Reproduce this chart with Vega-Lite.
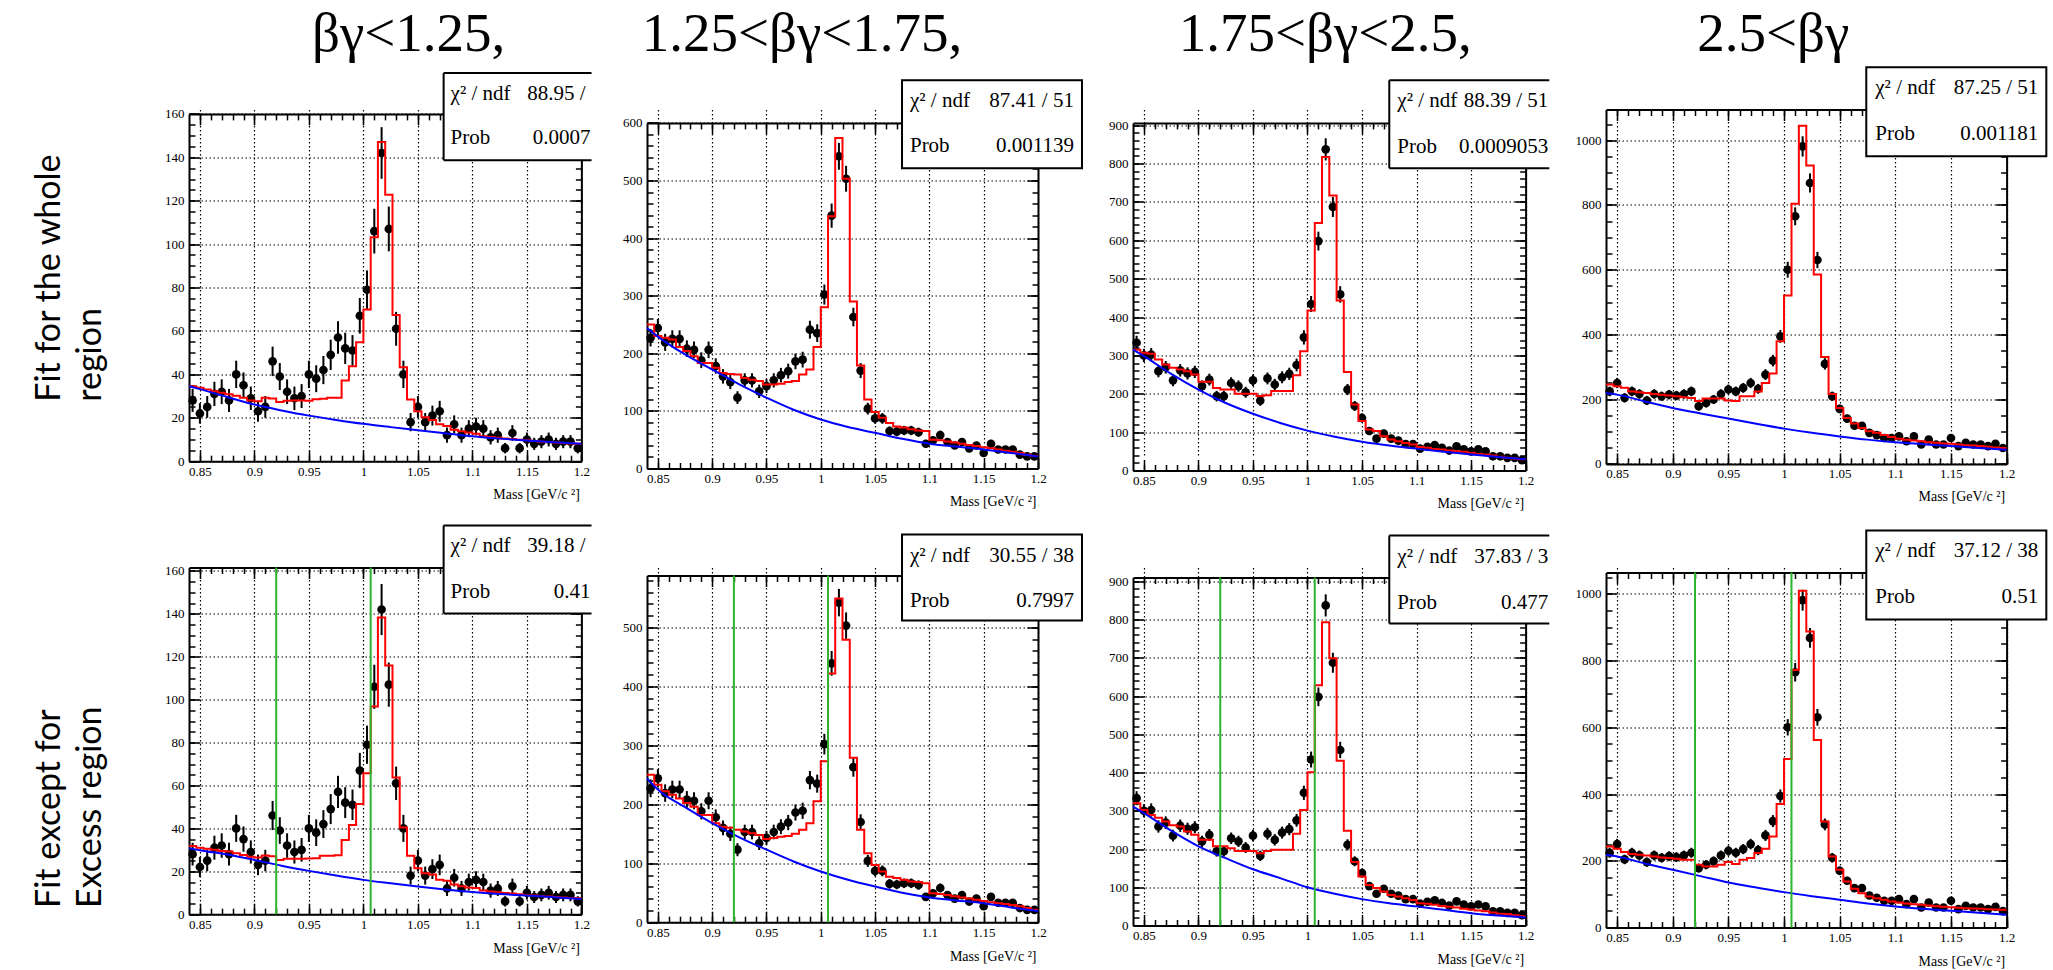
{
"$schema":"https://vega.github.io/schema/vega-lite/v6.json",
"background":"white",
"padding":{"left":32,"top":6.5,"right":0,"bottom":0},
"autosize":{"type":"pad"},
"config":{
 "view":{"stroke":null},
 "axis":{"domain":false,"labelFont":"Liberation Serif","labelFontSize":13,"labelColor":"#000","tickColor":"#000","tickWidth":1.5,"gridColor":"#000","gridDash":[1.5,2.5],"gridWidth":1.2,"gridOpacity":1,"labelFlush":false,"labelOverlap":false,"labelBound":false,"titleFont":"Liberation Serif","titleFontWeight":"normal","titleColor":"#000","domainColor":"#000","domainWidth":2},
 "title":{"font":"Liberation Serif","fontSize":55,"fontWeight":"normal","color":"#000","anchor":"middle","frame":"group","offset":45.8}
},
"datasets":{
"fitr":[{"g":0.92},{"g":1.00667}],
"bg":[
{"m":0.84,"c1":34.5,"c2":244,"c3":315,"c4":219,"c5":30.8,"c6":244,"c7":311,"c8":218},
{"m":0.85,"c1":33.2,"c2":229,"c3":298,"c4":214,"c5":29.8,"c6":225,"c7":294,"c8":213},
{"m":0.875,"c1":29.6,"c2":198,"c3":252,"c4":193,"c5":27.8,"c6":195,"c7":248,"c8":192},
{"m":0.9,"c1":26.1,"c2":172,"c3":211,"c4":173,"c5":25.3,"c6":168,"c7":207,"c8":173},
{"m":0.925,"c1":23.4,"c2":146,"c3":176,"c4":156,"c5":22.6,"c6":144,"c7":176,"c8":154},
{"m":0.95,"c1":21.0,"c2":123,"c3":148,"c4":140,"c5":20.2,"c6":123,"c7":147,"c8":135},
{"m":0.975,"c1":19.0,"c2":102,"c3":124,"c4":124,"c5":18.0,"c6":103,"c7":124,"c8":120},
{"m":1.0,"c1":17.2,"c2":85,"c3":104,"c4":109,"c5":16.0,"c6":86,"c7":100,"c8":106},
{"m":1.025,"c1":15.7,"c2":72,"c3":88,"c4":96,"c5":14.4,"c6":72,"c7":83,"c8":94},
{"m":1.05,"c1":14.3,"c2":62,"c3":75,"c4":85,"c5":12.9,"c6":60.5,"c7":69,"c8":83},
{"m":1.075,"c1":12.9,"c2":51.5,"c3":65,"c4":75,"c5":11.5,"c6":50,"c7":58,"c8":72},
{"m":1.1,"c1":11.5,"c2":43,"c3":57,"c4":67,"c5":10.3,"c6":42,"c7":50,"c8":63},
{"m":1.125,"c1":10.4,"c2":38,"c3":49,"c4":61,"c5":9.4,"c6":37,"c7":41,"c8":56},
{"m":1.15,"c1":9.5,"c2":33,"c3":42,"c4":55,"c5":8.7,"c6":32,"c7":32,"c8":50},
{"m":1.175,"c1":8.7,"c2":27,"c3":35,"c4":49,"c5":7.9,"c6":25,"c7":26,"c8":44},
{"m":1.2,"c1":8.0,"c2":21,"c3":29,"c4":44,"c5":7.1,"c6":19,"c7":21,"c8":38}
],
"bins":[
{"l":0.84,"m":0.8433,"n1":28,"a1":22.7,"b1":33.3,"n2":227,"a2":211.9,"b2":242.1,"n3":333,"a3":314.8,"b3":351.2,"n4":224,"a4":209,"b4":239,"f1":34.5,"f2":250,"f3":315,"f4":245,"f5":31.8,"f6":250,"f7":320,"f8":243},
{"l":0.8467,"m":0.85,"n1":22,"a1":17.3,"b1":26.7,"n2":244,"a2":228.4,"b2":259.6,"n3":300,"a3":282.7,"b3":317.3,"n4":250,"a4":234.2,"b4":265.8,"f1":33.8,"f2":230,"f3":307,"f4":240,"f5":31.0,"f6":233,"f7":302,"f8":236},
{"l":0.8533,"m":0.8567,"n1":25,"a1":20,"b1":30,"n2":219,"a2":204.2,"b2":233.8,"n3":302,"a3":284.6,"b3":319.4,"n4":204,"a4":189.7,"b4":218.3,"f1":33.0,"f2":227,"f3":304,"f4":235,"f5":30.5,"f6":222,"f7":289,"f8":226},
{"l":0.86,"m":0.8633,"n1":31,"a1":25.4,"b1":36.6,"n2":225,"a2":210,"b2":240,"n3":259,"a3":242.9,"b3":275.1,"n4":224,"a4":209,"b4":239,"f1":32.2,"f2":224,"f3":289,"f4":224,"f5":30.0,"f6":216,"f7":282,"f8":220},
{"l":0.8667,"m":0.87,"n1":32,"a1":26.3,"b1":37.7,"n2":225,"a2":210,"b2":240,"n3":269,"a3":252.6,"b3":285.4,"n4":216,"a4":201.3,"b4":230.7,"f1":31.5,"f2":211,"f3":276,"f4":221,"f5":29.5,"f6":210,"f7":272,"f8":218},
{"l":0.8733,"m":0.8767,"n1":28,"a1":22.7,"b1":33.3,"n2":208,"a2":193.6,"b2":222.4,"n3":235,"a3":219.7,"b3":250.3,"n4":196,"a4":182,"b4":210,"f1":30.8,"f2":204,"f3":268,"f4":219,"f5":29.2,"f6":202,"f7":262,"f8":216},
{"l":0.88,"m":0.8833,"n1":40,"a1":33.7,"b1":46.3,"n2":206,"a2":191.6,"b2":220.4,"n3":261,"a3":244.8,"b3":277.2,"n4":216,"a4":201.3,"b4":230.7,"f1":30.2,"f2":195,"f3":263,"f4":216,"f5":28.4,"f6":196,"f7":259,"f8":213},
{"l":0.8867,"m":0.89,"n1":35,"a1":29.1,"b1":40.9,"n2":188,"a2":174.3,"b2":201.7,"n3":253,"a3":237.1,"b3":268.9,"n4":209,"a4":194.5,"b4":223.5,"f1":29.2,"f2":183,"f3":259,"f4":214,"f5":27.6,"f6":182,"f7":246,"f8":210},
{"l":0.8933,"m":0.8967,"n1":29,"a1":23.6,"b1":34.4,"n2":206,"a2":191.6,"b2":220.4,"n3":257,"a3":241,"b3":273,"n4":214,"a4":199.4,"b4":228.6,"f1":28.0,"f2":183,"f3":250,"f4":211,"f5":26.8,"f6":182,"f7":237,"f8":208},
{"l":0.9,"m":0.9033,"n1":23,"a1":18.2,"b1":27.8,"n2":178,"a2":164.7,"b2":191.3,"n3":220,"a3":205.2,"b3":234.8,"n4":211,"a4":196.5,"b4":225.5,"f1":27.6,"f2":175,"f3":231,"f4":209,"f5":26.4,"f6":168,"f7":224,"f8":206},
{"l":0.9067,"m":0.91,"n1":25,"a1":20,"b1":30,"n2":160,"a2":147.4,"b2":172.6,"n3":237,"a3":221.6,"b3":252.4,"n4":216,"a4":201.3,"b4":230.7,"f1":29.2,"f2":166,"f3":231,"f4":206,"f5":27.4,"f6":162,"f7":224,"f8":203},
{"l":0.9133,"m":0.9167,"n1":46,"a1":39.2,"b1":52.8,"n2":150,"a2":137.8,"b2":162.2,"n3":194,"a3":180.1,"b3":207.9,"n4":224,"a4":209,"b4":239,"f1":28.9,"f2":164,"f3":215,"f4":204,"f5":27.0,"f6":160,"f7":207,"f8":203},
{"l":0.92,"m":0.9233,"n1":39,"a1":32.8,"b1":45.2,"n2":123,"a2":111.9,"b2":134.1,"n3":194,"a3":180.1,"b3":207.9,"n4":178,"a4":164.7,"b4":191.3,"f1":27.3,"f2":163,"f3":211,"f4":194,"f5":25.3,"f6":157,"f7":207,"f8":188},
{"l":0.9267,"m":0.93,"n1":32,"a1":26.3,"b1":37.7,"n2":153,"a2":140.6,"b2":165.4,"n3":228,"a3":212.9,"b3":243.1,"n4":188,"a4":174.3,"b4":201.7,"f1":27.9,"f2":157,"f3":211,"f4":202,"f5":25.8,"f6":154,"f7":202,"f8":183},
{"l":0.9333,"m":0.9367,"n1":29,"a1":23.6,"b1":34.4,"n2":153,"a2":140.6,"b2":165.4,"n3":220,"a3":205.2,"b3":234.8,"n4":199,"a4":184.9,"b4":213.1,"f1":28.0,"f2":154,"f3":200,"f4":202,"f5":25.9,"f6":151,"f7":195,"f8":183},
{"l":0.94,"m":0.9433,"n1":30,"a1":24.5,"b1":35.5,"n2":134,"a2":122.4,"b2":145.6,"n3":204,"a3":189.7,"b3":218.3,"n4":216,"a4":201.3,"b4":230.7,"f1":28.0,"f2":152,"f3":200,"f4":202,"f5":25.9,"f6":148,"f7":195,"f8":188},
{"l":0.9467,"m":0.95,"n1":40,"a1":33.7,"b1":46.3,"n2":143,"a2":131,"b2":155,"n3":235,"a3":219.7,"b3":250.3,"n4":230,"a4":214.8,"b4":245.2,"f1":27.9,"f2":146,"f3":200,"f4":196,"f5":26.0,"f6":141,"f7":195,"f8":196},
{"l":0.9533,"m":0.9567,"n1":38,"a1":31.8,"b1":44.2,"n2":153,"a2":140.6,"b2":165.4,"n3":182,"a3":168.5,"b3":195.5,"n4":224,"a4":209,"b4":239,"f1":28.5,"f2":146,"f3":194,"f4":194,"f5":26.1,"f6":143,"f7":189,"f8":190},
{"l":0.96,"m":0.9633,"n1":42,"a1":35.5,"b1":48.5,"n2":162,"a2":149.3,"b2":174.7,"n3":240,"a3":224.5,"b3":255.5,"n4":235,"a4":219.7,"b4":250.3,"f1":28.8,"f2":147,"f3":196,"f4":209,"f5":27.2,"f6":145,"f7":195,"f8":203},
{"l":0.9667,"m":0.97,"n1":49,"a1":42,"b1":56,"n2":169,"a2":156,"b2":182,"n3":224,"a3":209,"b3":239,"n4":250,"a4":234.2,"b4":265.8,"f1":29.2,"f2":150,"f3":207,"f4":209,"f5":27.3,"f6":146,"f7":198,"f8":208},
{"l":0.9733,"m":0.9767,"n1":57,"a1":49.5,"b1":64.5,"n2":186,"a2":172.4,"b2":199.6,"n3":243,"a3":227.4,"b3":258.6,"n4":232,"a4":216.8,"b4":247.2,"f1":29.2,"f2":152,"f3":207,"f4":224,"f5":27.5,"f6":150,"f7":198,"f8":223},
{"l":0.98,"m":0.9833,"n1":52,"a1":44.8,"b1":59.2,"n2":189,"a2":175.3,"b2":202.7,"n3":252,"a3":236.1,"b3":267.9,"n4":276,"a4":259.4,"b4":292.6,"f1":37.2,"f2":163,"f3":207,"f4":250,"f5":34.6,"f6":157,"f7":198,"f8":236},
{"l":0.9867,"m":0.99,"n1":51,"a1":43.9,"b1":58.1,"n2":241,"a2":225.5,"b2":256.5,"n3":275,"a3":258.4,"b3":291.6,"n4":319,"a4":301.1,"b4":336.9,"f1":43.8,"f2":172,"f3":248,"f4":279,"f5":41.6,"f6":168,"f7":240,"f8":273},
{"l":0.9933,"m":0.9967,"n1":67,"a1":58.8,"b1":75.2,"n2":235,"a2":219.7,"b2":250.3,"n3":347,"a3":328.4,"b3":365.6,"n4":394,"a4":374.2,"b4":413.8,"f1":54.8,"f2":211,"f3":311,"f4":379,"f5":51.4,"f6":205,"f7":302,"f8":370},
{"l":1.0,"m":1.0033,"n1":79,"a1":70.1,"b1":87.9,"n2":302,"a2":284.6,"b2":319.4,"n3":434,"a3":413.2,"b3":454.8,"n4":600,"a4":575.5,"b4":624.5,"f1":69.9,"f2":280,"f3":417,"f4":520,"f5":65.7,"f6":273,"f7":401,"f8":505},
{"l":1.0067,"m":1.01,"n1":106,"a1":95.7,"b1":116.3,"n2":439,"a2":418,"b2":460,"n3":598,"a3":573.5,"b3":622.5,"n4":765,"a4":737.3,"b4":792.7,"f1":103.2,"f2":438,"f3":645,"f4":804,"f5":96.8,"f6":422,"f7":628,"f8":772},
{"l":1.0133,"m":1.0167,"n1":142,"a1":130.1,"b1":153.9,"n2":542,"a2":518.7,"b2":565.3,"n3":837,"a3":808.1,"b3":865.9,"n4":981,"a4":949.7,"b4":1012.3,"f1":147,"f2":574,"f3":817,"f4":1045,"f5":138.3,"f6":549,"f7":793,"f8":1009},
{"l":1.02,"m":1.0233,"n1":107,"a1":96.7,"b1":117.3,"n2":503,"a2":480.6,"b2":525.4,"n3":687,"a3":660.8,"b3":713.2,"n4":868,"a4":838.5,"b4":897.5,"f1":122.8,"f2":503,"f3":717,"f4":922,"f5":115.9,"f6":479,"f7":699,"f8":887},
{"l":1.0267,"m":1.03,"n1":61,"a1":53.2,"b1":68.8,"n2":263,"a2":246.8,"b2":279.2,"n3":459,"a3":437.6,"b3":480.4,"n4":630,"a4":604.9,"b4":655.1,"f1":67.3,"f2":290,"f3":443,"f4":585,"f5":63.7,"f6":279,"f7":431,"f8":562},
{"l":1.0333,"m":1.0367,"n1":40,"a1":33.7,"b1":46.3,"n2":170,"a2":157,"b2":183,"n3":211,"a3":196.5,"b3":225.5,"n4":309,"a4":291.4,"b4":326.6,"f1":43.3,"f2":179,"f3":257,"f4":330,"f5":40.4,"f6":157,"f7":248,"f8":318},
{"l":1.04,"m":1.0433,"n1":18,"a1":13.8,"b1":22.2,"n2":104,"a2":93.8,"b2":114.2,"n3":168,"a3":155,"b3":181,"n4":209,"a4":194.5,"b4":223.5,"f1":28.4,"f2":120,"f3":172,"f4":216,"f5":27.3,"f6":117,"f7":166,"f8":213},
{"l":1.0467,"m":1.05,"n1":25,"a1":20,"b1":30,"n2":87,"a2":77.7,"b2":96.3,"n3":137,"a3":125.3,"b3":148.7,"n4":170,"a4":157,"b4":183,"f1":23.0,"f2":98,"f3":129,"f4":173,"f5":21.4,"f6":97,"f7":128,"f8":173},
{"l":1.0533,"m":1.0567,"n1":18,"a1":13.8,"b1":22.2,"n2":87,"a2":77.7,"b2":96.3,"n3":103,"a3":92.9,"b3":113.1,"n4":140,"a4":128.2,"b4":151.8,"f1":20.3,"f2":88,"f3":107,"f4":142,"f5":19.1,"f6":86,"f7":106,"f8":138},
{"l":1.06,"m":1.0633,"n1":21,"a1":16.4,"b1":25.6,"n2":65,"a2":56.9,"b2":73.1,"n3":83,"a3":73.9,"b3":92.1,"n4":118,"a4":107.1,"b4":128.9,"f1":19.0,"f2":79,"f3":103,"f4":125,"f5":18.5,"f6":77,"f7":98,"f8":116},
{"l":1.0667,"m":1.07,"n1":23,"a1":18.2,"b1":27.8,"n2":64,"a2":56,"b2":72,"n3":96,"a3":86.2,"b3":105.8,"n4":118,"a4":107.1,"b4":128.9,"f1":17.0,"f2":73,"f3":89,"f4":111,"f5":16.0,"f6":75,"f7":89,"f8":103},
{"l":1.0733,"m":1.0767,"n1":12,"a1":8.5,"b1":15.5,"n2":66,"a2":57.9,"b2":74.1,"n3":83,"a3":73.9,"b3":92.1,"n4":96,"a4":86.2,"b4":105.8,"f1":16.2,"f2":71,"f3":81,"f4":101,"f5":15.6,"f6":72,"f7":80,"f8":93},
{"l":1.08,"m":1.0833,"n1":17,"a1":12.9,"b1":21.1,"n2":66,"a2":57.9,"b2":74.1,"n3":78,"a3":69.2,"b3":86.8,"n4":89,"a4":79.6,"b4":98.4,"f1":14.5,"f2":68,"f3":76,"f4":96,"f5":13.8,"f6":69,"f7":76,"f8":88},
{"l":1.0867,"m":1.09,"n1":12,"a1":8.5,"b1":15.5,"n2":63,"a2":55.1,"b2":70.9,"n3":69,"a3":60.7,"b3":77.3,"n4":80,"a4":71.1,"b4":88.9,"f1":13.8,"f2":66,"f3":72,"f4":89,"f5":13.0,"f6":68,"f7":71,"f8":83},
{"l":1.0933,"m":1.0967,"n1":15,"a1":11.1,"b1":18.9,"n2":43,"a2":36.4,"b2":49.6,"n3":69,"a3":60.7,"b3":77.3,"n4":80,"a4":71.1,"b4":88.9,"f1":13.2,"f2":65,"f3":68,"f4":83,"f5":12.4,"f6":66,"f7":67,"f8":78},
{"l":1.1,"m":1.1033,"n1":16,"a1":12,"b1":20,"n2":49,"a2":42,"b2":56,"n3":57,"a3":49.5,"b3":64.5,"n4":85,"a4":75.8,"b4":94.2,"f1":12.6,"f2":50,"f3":61,"f4":78,"f5":12.2,"f6":49,"f7":58,"f8":75},
{"l":1.1067,"m":1.11,"n1":15,"a1":11.1,"b1":18.9,"n2":58,"a2":50.4,"b2":65.6,"n3":62,"a3":54.1,"b3":69.9,"n4":70,"a4":61.6,"b4":78.4,"f1":11.5,"f2":49,"f3":59,"f4":75,"f5":11.0,"f6":48,"f7":57,"f8":72},
{"l":1.1133,"m":1.1167,"n1":11,"a1":7.7,"b1":14.3,"n2":46,"a2":39.2,"b2":52.8,"n3":66,"a3":57.9,"b3":74.1,"n4":85,"a4":75.8,"b4":94.2,"f1":11.2,"f2":47,"f3":56,"f4":72,"f5":10.6,"f6":46,"f7":54,"f8":70},
{"l":1.12,"m":1.1233,"n1":12,"a1":8.5,"b1":15.5,"n2":40,"a2":33.7,"b2":46.3,"n3":59,"a3":51.3,"b3":66.7,"n4":60,"a4":52.3,"b4":67.7,"f1":10.8,"f2":45,"f3":55,"f4":70,"f5":10.2,"f6":44,"f7":51,"f8":68},
{"l":1.1267,"m":1.13,"n1":6,"a1":3.6,"b1":8.4,"n2":46,"a2":39.2,"b2":52.8,"n3":52,"a3":44.8,"b3":59.2,"n4":75,"a4":66.3,"b4":83.7,"f1":10.5,"f2":43,"f3":52,"f4":67,"f5":9.9,"f6":42,"f7":49,"f8":66},
{"l":1.1333,"m":1.1367,"n1":13,"a1":9.4,"b1":16.6,"n2":35,"a2":29.1,"b2":40.9,"n3":63,"a3":55.1,"b3":70.9,"n4":60,"a4":52.3,"b4":67.7,"f1":10.2,"f2":41,"f3":50,"f4":65,"f5":9.6,"f6":40,"f7":47,"f8":64},
{"l":1.14,"m":1.1433,"n1":6,"a1":3.6,"b1":8.4,"n2":40,"a2":33.7,"b2":46.3,"n3":55,"a3":47.6,"b3":62.4,"n4":60,"a4":52.3,"b4":67.7,"f1":9.9,"f2":39,"f3":49,"f4":63,"f5":9.3,"f6":38,"f7":44,"f8":62},
{"l":1.1467,"m":1.15,"n1":10,"a1":6.8,"b1":13.2,"n2":27,"a2":21.8,"b2":32.2,"n3":50,"a3":42.9,"b3":57.1,"n4":80,"a4":71.1,"b4":88.9,"f1":9.6,"f2":37,"f3":46,"f4":62,"f5":9.0,"f6":36,"f7":42,"f8":61},
{"l":1.1533,"m":1.1567,"n1":8,"a1":5.2,"b1":10.8,"n2":43,"a2":36.4,"b2":49.6,"n3":55,"a3":47.6,"b3":62.4,"n4":55,"a4":47.6,"b4":62.4,"f1":9.3,"f2":35,"f3":43,"f4":60,"f5":8.7,"f6":34,"f7":39,"f8":59},
{"l":1.16,"m":1.1633,"n1":9,"a1":6,"b1":12,"n2":33,"a2":27.3,"b2":38.7,"n3":50,"a3":42.9,"b3":57.1,"n4":65,"a4":56.9,"b4":73.1,"f1":9.0,"f2":33,"f3":42,"f4":58,"f5":8.4,"f6":32,"f7":37,"f8":58},
{"l":1.1667,"m":1.17,"n1":10,"a1":6.8,"b1":13.2,"n2":33,"a2":27.3,"b2":38.7,"n3":37,"a3":30.9,"b3":43.1,"n4":60,"a4":52.3,"b4":67.7,"f1":8.8,"f2":31,"f3":39,"f4":57,"f5":8.2,"f6":31,"f7":34,"f8":57},
{"l":1.1733,"m":1.1767,"n1":8,"a1":5.2,"b1":10.8,"n2":33,"a2":27.3,"b2":38.7,"n3":37,"a3":30.9,"b3":43.1,"n4":60,"a4":52.3,"b4":67.7,"f1":8.6,"f2":29,"f3":36,"f4":55,"f5":8.0,"f6":29,"f7":31,"f8":56},
{"l":1.18,"m":1.1833,"n1":9,"a1":6,"b1":12,"n2":24,"a2":19.1,"b2":28.9,"n3":33,"a3":27.3,"b3":38.7,"n4":55,"a4":47.6,"b4":62.4,"f1":8.4,"f2":27,"f3":33,"f4":53,"f5":7.8,"f6":27,"f7":30,"f8":55},
{"l":1.1867,"m":1.19,"n1":9,"a1":6,"b1":12,"n2":21,"a2":16.4,"b2":25.6,"n3":33,"a3":27.3,"b3":38.7,"n4":62,"a4":54.1,"b4":69.9,"f1":8.2,"f2":24,"f3":31,"f4":51,"f5":7.6,"f6":24,"f7":27,"f8":54},
{"l":1.1933,"m":1.1967,"n1":6,"a1":3.6,"b1":8.4,"n2":21,"a2":16.4,"b2":25.6,"n3":27,"a3":21.8,"b3":32.2,"n4":49,"a4":42,"b4":56,"f1":8.0,"f2":22,"f3":29,"f4":49,"f5":7.4,"f6":21,"f7":24,"f8":53},
{"l":1.2,"f1":8.0,"f2":22,"f3":29,"f4":49,"f5":7.4,"f6":21,"f7":24,"f8":53}
]
},
"columns":7,
"spacing":0,
"align":"none",
"bounds":"flush",
"concat":[
{"width":392.4,"height":1,"data":{"values":[]},"mark":{"type":"point","opacity":0},"title":{"text":"βγ<1.25,","dx":23.5}},
{"width":64.3,"height":1,"data":{"values":[]},"mark":{"type":"point","opacity":0}},
{"width":391,"height":1,"data":{"values":[]},"mark":{"type":"point","opacity":0},"title":{"text":"1.25<βγ<1.75,","dx":-40.5}},
{"width":94.7,"height":1,"data":{"values":[]},"mark":{"type":"point","opacity":0}},
{"width":392.6,"height":1,"data":{"values":[]},"mark":{"type":"point","opacity":0},"title":{"text":"1.75<βγ<2.5,","dx":-4}},
{"width":79.4,"height":1,"data":{"values":[]},"mark":{"type":"point","opacity":0}},
{"width":400.6,"height":1,"data":{"values":[]},"mark":{"type":"point","opacity":0},"title":{"text":"2.5<βγ","dx":-33}},

{"width":392.4,"height":351.7,"resolve":{"axis":{"x":"independent","y":"independent"}},"layer":[
{"data":{"name":"bins"},"transform":[{"filter":"isValid(datum.m)"}],"mark":{"type":"rule","color":"black","strokeWidth":2},"encoding":{"x":{"field":"m","type":"quantitative","scale":{"domain":[0.84,1.2],"nice":false,"zero":false},"axis":null},"y":{"field":"a1","type":"quantitative","scale":{"domain":[0,160],"range":[351.7,4.4],"nice":false,"zero":false},"axis":null},"y2":{"field":"b1"}}},
{"data":{"name":"bins"},"transform":[{"filter":"isValid(datum.m)"}],"mark":{"type":"circle","size":75,"color":"black","opacity":1},"encoding":{"x":{"field":"m","type":"quantitative","scale":{"domain":[0.84,1.2],"nice":false,"zero":false},"axis":{"orient":"bottom","values":[0.85,0.9,0.95,1,1.05,1.1,1.15,1.2],"format":"~g","ticks":false,"grid":true,"labelPadding":4,"title":"Mass [GeV/c ²]","titleFontSize":14,"titleX":390.4,"titleY":33,"titleAlign":"right","titleBaseline":"middle"}},"y":{"field":"n1","type":"quantitative","scale":{"domain":[0,160],"range":[351.7,4.4],"nice":false,"zero":false},"axis":{"orient":"left","values":[0,20,40,60,80,100,120,140,160],"format":"d","ticks":false,"grid":true,"labelPadding":5,"title":["Fit for the whole","region"],"titleFont":"Lato","titleFontSize":34,"titleFontWeight":"normal","titleAngle":270,"titleAlign":"left","titleBaseline":"top","titleX":-156.3,"titleY":291.7,"titleLineHeight":41}}}},
{"data":{"name":"bins"},"mark":{"type":"line","interpolate":"step-after","color":"#ff0000","strokeWidth":2},"encoding":{"x":{"field":"l","type":"quantitative","scale":{"domain":[0.84,1.2],"nice":false,"zero":false},"axis":{"orient":"bottom","values":[0.85,0.9,0.95,1,1.05,1.1,1.15,1.2],"labels":false,"grid":false,"domain":true,"tickSize":-11,"title":null}},"y":{"field":"f1","type":"quantitative","scale":{"domain":[0,160],"range":[351.7,4.4],"nice":false,"zero":false},"axis":{"orient":"left","values":[0,20,40,60,80,100,120,140,160],"labels":false,"grid":false,"domain":true,"tickSize":-11,"title":null}}}},
{"data":{"name":"bg"},"mark":{"type":"line","interpolate":"monotone","color":"#0000ff","strokeWidth":2},"encoding":{"x":{"field":"m","type":"quantitative","scale":{"domain":[0.84,1.2],"nice":false,"zero":false},"axis":{"orient":"bottom","values":[0.85,0.86,0.87,0.88,0.89,0.9,0.91,0.92,0.93,0.94,0.95,0.96,0.97,0.98,0.99,1,1.01,1.02,1.03,1.04,1.05,1.06,1.07,1.08,1.09,1.1,1.11,1.12,1.13,1.14,1.15,1.16,1.17,1.18,1.19,1.2],"labels":false,"grid":false,"tickSize":-6,"title":null}},"y":{"field":"c1","type":"quantitative","scale":{"domain":[0,160],"range":[351.7,4.4],"nice":false,"zero":false},"axis":{"orient":"left","values":[0,5,10,15,20,25,30,35,40,45,50,55,60,65,70,75,80,85,90,95,100,105,110,115,120,125,130,135,140,145,150,155,160],"labels":false,"grid":false,"tickSize":-6,"title":null}}}},
{"data":{"values":[{}]},"mark":{"type":"rect","fill":"white"},"encoding":{"x":{"datum":1.0736,"type":"quantitative","scale":{"domain":[0.84,1.2],"nice":false,"zero":false},"axis":{"orient":"top","offset":-4.4,"values":[0.85,0.9,0.95,1,1.05,1.1,1.15,1.2],"labels":false,"grid":false,"domain":true,"tickSize":-11,"title":null}},"x2":{"datum":1.2093},"y":{"datum":138.7,"type":"quantitative","scale":{"domain":[0,160],"range":[351.7,4.4],"nice":false,"zero":false},"axis":{"orient":"right","values":[0,20,40,60,80,100,120,140,160],"labels":false,"grid":false,"domain":true,"tickSize":-11,"title":null}},"y2":{"datum":178.8}}},
{"data":{"values":[{}]},"mark":{"type":"rule","color":"black","strokeWidth":2},"encoding":{"x":{"datum":1.0736,"type":"quantitative","scale":{"domain":[0.84,1.2],"nice":false,"zero":false},"axis":null},"x2":{"datum":1.2093},"y":{"datum":178.8,"type":"quantitative","scale":{"domain":[0,160],"range":[351.7,4.4],"nice":false,"zero":false},"axis":null}}},
{"data":{"values":[{}]},"mark":{"type":"rule","color":"black","strokeWidth":2},"encoding":{"x":{"datum":1.0736,"type":"quantitative","scale":{"domain":[0.84,1.2],"nice":false,"zero":false},"axis":null},"x2":{"datum":1.2093},"y":{"datum":138.7,"type":"quantitative","scale":{"domain":[0,160],"range":[351.7,4.4],"nice":false,"zero":false},"axis":null}}},
{"data":{"values":[{}]},"mark":{"type":"rule","color":"black","strokeWidth":2},"encoding":{"x":{"datum":1.0736,"type":"quantitative","scale":{"domain":[0.84,1.2],"nice":false,"zero":false},"axis":null},"y":{"datum":138.7,"type":"quantitative","scale":{"domain":[0,160],"range":[351.7,4.4],"nice":false,"zero":false},"axis":null},"y2":{"datum":178.8}}},
{"data":{"values":[{}]},"mark":{"type":"text","text":"χ² / ndf","align":"left","baseline":"middle","font":"Liberation Serif","fontSize":21,"color":"black"},"encoding":{"x":{"datum":1.08,"type":"quantitative","scale":{"domain":[0.84,1.2],"nice":false,"zero":false},"axis":{"orient":"top","offset":-4.4,"values":[0.85,0.86,0.87,0.88,0.89,0.9,0.91,0.92,0.93,0.94,0.95,0.96,0.97,0.98,0.99,1,1.01,1.02,1.03,1.04,1.05,1.06,1.07,1.08,1.09,1.1,1.11,1.12,1.13,1.14,1.15,1.16,1.17,1.18,1.19,1.2],"labels":false,"grid":false,"tickSize":-6,"title":null}},"y":{"datum":169.1,"type":"quantitative","scale":{"domain":[0,160],"range":[351.7,4.4],"nice":false,"zero":false},"axis":{"orient":"right","values":[0,5,10,15,20,25,30,35,40,45,50,55,60,65,70,75,80,85,90,95,100,105,110,115,120,125,130,135,140,145,150,155,160],"labels":false,"grid":false,"tickSize":-6,"title":null}}}},
{"data":{"values":[{}]},"mark":{"type":"text","text":"88.95 /","align":"right","baseline":"middle","font":"Liberation Serif","fontSize":21,"color":"black"},"encoding":{"x":{"datum":1.2038,"type":"quantitative","scale":{"domain":[0.84,1.2],"nice":false,"zero":false},"axis":null},"y":{"datum":169.1,"type":"quantitative","scale":{"domain":[0,160],"range":[351.7,4.4],"nice":false,"zero":false},"axis":null}}},
{"data":{"values":[{}]},"mark":{"type":"text","text":"Prob","align":"left","baseline":"middle","font":"Liberation Serif","fontSize":21,"color":"black"},"encoding":{"x":{"datum":1.08,"type":"quantitative","scale":{"domain":[0.84,1.2],"nice":false,"zero":false},"axis":null},"y":{"datum":148.8,"type":"quantitative","scale":{"domain":[0,160],"range":[351.7,4.4],"nice":false,"zero":false},"axis":null}}},
{"data":{"values":[{}]},"mark":{"type":"text","text":"0.0007","align":"right","baseline":"middle","font":"Liberation Serif","fontSize":21,"color":"black"},"encoding":{"x":{"datum":1.2084,"type":"quantitative","scale":{"domain":[0.84,1.2],"nice":false,"zero":false},"axis":null},"y":{"datum":148.8,"type":"quantitative","scale":{"domain":[0,160],"range":[351.7,4.4],"nice":false,"zero":false},"axis":null}}}
]},
{"width":64.3,"height":1,"data":{"values":[]},"mark":{"type":"point","opacity":0}},
{"width":391,"height":359,"resolve":{"axis":{"x":"independent","y":"independent"}},"layer":[
{"data":{"name":"bins"},"transform":[{"filter":"isValid(datum.m)"}],"mark":{"type":"rule","color":"black","strokeWidth":2},"encoding":{"x":{"field":"m","type":"quantitative","scale":{"domain":[0.84,1.2],"nice":false,"zero":false},"axis":null},"y":{"field":"a2","type":"quantitative","scale":{"domain":[0,600],"range":[359,13.4],"nice":false,"zero":false},"axis":null},"y2":{"field":"b2"}}},
{"data":{"name":"bins"},"transform":[{"filter":"isValid(datum.m)"}],"mark":{"type":"circle","size":75,"color":"black","opacity":1},"encoding":{"x":{"field":"m","type":"quantitative","scale":{"domain":[0.84,1.2],"nice":false,"zero":false},"axis":{"orient":"bottom","values":[0.85,0.9,0.95,1,1.05,1.1,1.15,1.2],"format":"~g","ticks":false,"grid":true,"labelPadding":4,"title":"Mass [GeV/c ²]","titleFontSize":14,"titleX":389,"titleY":33,"titleAlign":"right","titleBaseline":"middle"}},"y":{"field":"n2","type":"quantitative","scale":{"domain":[0,600],"range":[359,13.4],"nice":false,"zero":false},"axis":{"orient":"left","values":[0,100,200,300,400,500,600],"format":"d","ticks":false,"grid":true,"labelPadding":5,"title":null}}}},
{"data":{"name":"bins"},"mark":{"type":"line","interpolate":"step-after","color":"#ff0000","strokeWidth":2},"encoding":{"x":{"field":"l","type":"quantitative","scale":{"domain":[0.84,1.2],"nice":false,"zero":false},"axis":{"orient":"bottom","values":[0.85,0.9,0.95,1,1.05,1.1,1.15,1.2],"labels":false,"grid":false,"domain":true,"tickSize":-11,"title":null}},"y":{"field":"f2","type":"quantitative","scale":{"domain":[0,600],"range":[359,13.4],"nice":false,"zero":false},"axis":{"orient":"left","values":[0,100,200,300,400,500,600],"labels":false,"grid":false,"domain":true,"tickSize":-11,"title":null}}}},
{"data":{"name":"bg"},"mark":{"type":"line","interpolate":"monotone","color":"#0000ff","strokeWidth":2},"encoding":{"x":{"field":"m","type":"quantitative","scale":{"domain":[0.84,1.2],"nice":false,"zero":false},"axis":{"orient":"bottom","values":[0.85,0.86,0.87,0.88,0.89,0.9,0.91,0.92,0.93,0.94,0.95,0.96,0.97,0.98,0.99,1,1.01,1.02,1.03,1.04,1.05,1.06,1.07,1.08,1.09,1.1,1.11,1.12,1.13,1.14,1.15,1.16,1.17,1.18,1.19,1.2],"labels":false,"grid":false,"tickSize":-6,"title":null}},"y":{"field":"c2","type":"quantitative","scale":{"domain":[0,600],"range":[359,13.4],"nice":false,"zero":false},"axis":{"orient":"left","values":[0,20,40,60,80,100,120,140,160,180,200,220,240,260,280,300,320,340,360,380,400,420,440,460,480,500,520,540,560,580,600],"labels":false,"grid":false,"tickSize":-6,"title":null}}}},
{"data":{"values":[{}]},"mark":{"type":"rect","fill":"white","stroke":"black","strokeWidth":2},"encoding":{"x":{"datum":1.0748,"type":"quantitative","scale":{"domain":[0.84,1.2],"nice":false,"zero":false},"axis":{"orient":"top","offset":-13.4,"values":[0.85,0.9,0.95,1,1.05,1.1,1.15,1.2],"labels":false,"grid":false,"domain":true,"tickSize":-11,"title":null}},"x2":{"datum":1.2405},"y":{"datum":521.4,"type":"quantitative","scale":{"domain":[0,600],"range":[359,13.4],"nice":false,"zero":false},"axis":{"orient":"right","values":[0,100,200,300,400,500,600],"labels":false,"grid":false,"domain":true,"tickSize":-11,"title":null}},"y2":{"datum":674.1}}},
{"data":{"values":[{}]},"mark":{"type":"text","text":"χ² / ndf","align":"left","baseline":"middle","font":"Liberation Serif","fontSize":21,"color":"black"},"encoding":{"x":{"datum":1.0821,"type":"quantitative","scale":{"domain":[0.84,1.2],"nice":false,"zero":false},"axis":{"orient":"top","offset":-13.4,"values":[0.85,0.86,0.87,0.88,0.89,0.9,0.91,0.92,0.93,0.94,0.95,0.96,0.97,0.98,0.99,1,1.01,1.02,1.03,1.04,1.05,1.06,1.07,1.08,1.09,1.1,1.11,1.12,1.13,1.14,1.15,1.16,1.17,1.18,1.19,1.2],"labels":false,"grid":false,"tickSize":-6,"title":null}},"y":{"datum":637.7,"type":"quantitative","scale":{"domain":[0,600],"range":[359,13.4],"nice":false,"zero":false},"axis":{"orient":"right","values":[0,20,40,60,80,100,120,140,160,180,200,220,240,260,280,300,320,340,360,380,400,420,440,460,480,500,520,540,560,580,600],"labels":false,"grid":false,"tickSize":-6,"title":null}}}},
{"data":{"values":[{}]},"mark":{"type":"text","text":"87.41 / 51","align":"right","baseline":"middle","font":"Liberation Serif","fontSize":21,"color":"black"},"encoding":{"x":{"datum":1.2331,"type":"quantitative","scale":{"domain":[0.84,1.2],"nice":false,"zero":false},"axis":null},"y":{"datum":637.7,"type":"quantitative","scale":{"domain":[0,600],"range":[359,13.4],"nice":false,"zero":false},"axis":null}}},
{"data":{"values":[{}]},"mark":{"type":"text","text":"Prob","align":"left","baseline":"middle","font":"Liberation Serif","fontSize":21,"color":"black"},"encoding":{"x":{"datum":1.0821,"type":"quantitative","scale":{"domain":[0.84,1.2],"nice":false,"zero":false},"axis":null},"y":{"datum":559.6,"type":"quantitative","scale":{"domain":[0,600],"range":[359,13.4],"nice":false,"zero":false},"axis":null}}},
{"data":{"values":[{}]},"mark":{"type":"text","text":"0.001139","align":"right","baseline":"middle","font":"Liberation Serif","fontSize":21,"color":"black"},"encoding":{"x":{"datum":1.2331,"type":"quantitative","scale":{"domain":[0.84,1.2],"nice":false,"zero":false},"axis":null},"y":{"datum":559.6,"type":"quantitative","scale":{"domain":[0,600],"range":[359,13.4],"nice":false,"zero":false},"axis":null}}}
]},
{"width":94.7,"height":1,"data":{"values":[]},"mark":{"type":"point","opacity":0}},
{"width":392.6,"height":361,"resolve":{"axis":{"x":"independent","y":"independent"}},"layer":[
{"data":{"name":"bins"},"transform":[{"filter":"isValid(datum.m)"}],"mark":{"type":"rule","color":"black","strokeWidth":2},"encoding":{"x":{"field":"m","type":"quantitative","scale":{"domain":[0.84,1.2],"nice":false,"zero":false},"axis":null},"y":{"field":"a3","type":"quantitative","scale":{"domain":[0,906],"range":[361,13.4],"nice":false,"zero":false},"axis":null},"y2":{"field":"b3"}}},
{"data":{"name":"bins"},"transform":[{"filter":"isValid(datum.m)"}],"mark":{"type":"circle","size":75,"color":"black","opacity":1},"encoding":{"x":{"field":"m","type":"quantitative","scale":{"domain":[0.84,1.2],"nice":false,"zero":false},"axis":{"orient":"bottom","values":[0.85,0.9,0.95,1,1.05,1.1,1.15,1.2],"format":"~g","ticks":false,"grid":true,"labelPadding":4,"title":"Mass [GeV/c ²]","titleFontSize":14,"titleX":390.6,"titleY":33,"titleAlign":"right","titleBaseline":"middle"}},"y":{"field":"n3","type":"quantitative","scale":{"domain":[0,906],"range":[361,13.4],"nice":false,"zero":false},"axis":{"orient":"left","values":[0,100,200,300,400,500,600,700,800,900],"format":"d","ticks":false,"grid":true,"labelPadding":5,"title":null}}}},
{"data":{"name":"bins"},"mark":{"type":"line","interpolate":"step-after","color":"#ff0000","strokeWidth":2},"encoding":{"x":{"field":"l","type":"quantitative","scale":{"domain":[0.84,1.2],"nice":false,"zero":false},"axis":{"orient":"bottom","values":[0.85,0.9,0.95,1,1.05,1.1,1.15,1.2],"labels":false,"grid":false,"domain":true,"tickSize":-11,"title":null}},"y":{"field":"f3","type":"quantitative","scale":{"domain":[0,906],"range":[361,13.4],"nice":false,"zero":false},"axis":{"orient":"left","values":[0,100,200,300,400,500,600,700,800,900],"labels":false,"grid":false,"domain":true,"tickSize":-11,"title":null}}}},
{"data":{"name":"bg"},"mark":{"type":"line","interpolate":"monotone","color":"#0000ff","strokeWidth":2},"encoding":{"x":{"field":"m","type":"quantitative","scale":{"domain":[0.84,1.2],"nice":false,"zero":false},"axis":{"orient":"bottom","values":[0.85,0.86,0.87,0.88,0.89,0.9,0.91,0.92,0.93,0.94,0.95,0.96,0.97,0.98,0.99,1,1.01,1.02,1.03,1.04,1.05,1.06,1.07,1.08,1.09,1.1,1.11,1.12,1.13,1.14,1.15,1.16,1.17,1.18,1.19,1.2],"labels":false,"grid":false,"tickSize":-6,"title":null}},"y":{"field":"c3","type":"quantitative","scale":{"domain":[0,906],"range":[361,13.4],"nice":false,"zero":false},"axis":{"orient":"left","values":[0,20,40,60,80,100,120,140,160,180,200,220,240,260,280,300,320,340,360,380,400,420,440,460,480,500,520,540,560,580,600,620,640,660,680,700,720,740,760,780,800,820,840,860,880,900],"labels":false,"grid":false,"tickSize":-6,"title":null}}}},
{"data":{"values":[{}]},"mark":{"type":"rect","fill":"white"},"encoding":{"x":{"datum":1.075,"type":"quantitative","scale":{"domain":[0.84,1.2],"nice":false,"zero":false},"axis":{"orient":"top","offset":-13.4,"values":[0.85,0.9,0.95,1,1.05,1.1,1.15,1.2],"labels":false,"grid":false,"domain":true,"tickSize":-11,"title":null}},"x2":{"datum":1.2217},"y":{"datum":787.9,"type":"quantitative","scale":{"domain":[0,906],"range":[361,13.4],"nice":false,"zero":false},"axis":{"orient":"right","values":[0,100,200,300,400,500,600,700,800,900],"labels":false,"grid":false,"domain":true,"tickSize":-11,"title":null}},"y2":{"datum":1017.3}}},
{"data":{"values":[{}]},"mark":{"type":"rule","color":"black","strokeWidth":2},"encoding":{"x":{"datum":1.075,"type":"quantitative","scale":{"domain":[0.84,1.2],"nice":false,"zero":false},"axis":null},"x2":{"datum":1.2217},"y":{"datum":1017.3,"type":"quantitative","scale":{"domain":[0,906],"range":[361,13.4],"nice":false,"zero":false},"axis":null}}},
{"data":{"values":[{}]},"mark":{"type":"rule","color":"black","strokeWidth":2},"encoding":{"x":{"datum":1.075,"type":"quantitative","scale":{"domain":[0.84,1.2],"nice":false,"zero":false},"axis":null},"x2":{"datum":1.2217},"y":{"datum":787.9,"type":"quantitative","scale":{"domain":[0,906],"range":[361,13.4],"nice":false,"zero":false},"axis":null}}},
{"data":{"values":[{}]},"mark":{"type":"rule","color":"black","strokeWidth":2},"encoding":{"x":{"datum":1.075,"type":"quantitative","scale":{"domain":[0.84,1.2],"nice":false,"zero":false},"axis":null},"y":{"datum":787.9,"type":"quantitative","scale":{"domain":[0,906],"range":[361,13.4],"nice":false,"zero":false},"axis":null},"y2":{"datum":1017.3}}},
{"data":{"values":[{}]},"mark":{"type":"text","text":"χ² / ndf","align":"left","baseline":"middle","font":"Liberation Serif","fontSize":21,"color":"black"},"encoding":{"x":{"datum":1.0824,"type":"quantitative","scale":{"domain":[0.84,1.2],"nice":false,"zero":false},"axis":{"orient":"top","offset":-13.4,"values":[0.85,0.86,0.87,0.88,0.89,0.9,0.91,0.92,0.93,0.94,0.95,0.96,0.97,0.98,0.99,1,1.01,1.02,1.03,1.04,1.05,1.06,1.07,1.08,1.09,1.1,1.11,1.12,1.13,1.14,1.15,1.16,1.17,1.18,1.19,1.2],"labels":false,"grid":false,"tickSize":-6,"title":null}},"y":{"datum":962.5,"type":"quantitative","scale":{"domain":[0,906],"range":[361,13.4],"nice":false,"zero":false},"axis":{"orient":"right","values":[0,20,40,60,80,100,120,140,160,180,200,220,240,260,280,300,320,340,360,380,400,420,440,460,480,500,520,540,560,580,600,620,640,660,680,700,720,740,760,780,800,820,840,860,880,900],"labels":false,"grid":false,"tickSize":-6,"title":null}}}},
{"data":{"values":[{}]},"mark":{"type":"text","text":"88.39 / 51","align":"right","baseline":"middle","font":"Liberation Serif","fontSize":21,"color":"black"},"encoding":{"x":{"datum":1.2208,"type":"quantitative","scale":{"domain":[0.84,1.2],"nice":false,"zero":false},"axis":null},"y":{"datum":962.5,"type":"quantitative","scale":{"domain":[0,906],"range":[361,13.4],"nice":false,"zero":false},"axis":null}}},
{"data":{"values":[{}]},"mark":{"type":"text","text":"Prob","align":"left","baseline":"middle","font":"Liberation Serif","fontSize":21,"color":"black"},"encoding":{"x":{"datum":1.0824,"type":"quantitative","scale":{"domain":[0.84,1.2],"nice":false,"zero":false},"axis":null},"y":{"datum":842.6,"type":"quantitative","scale":{"domain":[0,906],"range":[361,13.4],"nice":false,"zero":false},"axis":null}}},
{"data":{"values":[{}]},"mark":{"type":"text","text":"0.0009053","align":"right","baseline":"middle","font":"Liberation Serif","fontSize":21,"color":"black"},"encoding":{"x":{"datum":1.2208,"type":"quantitative","scale":{"domain":[0.84,1.2],"nice":false,"zero":false},"axis":null},"y":{"datum":842.6,"type":"quantitative","scale":{"domain":[0,906],"range":[361,13.4],"nice":false,"zero":false},"axis":null}}}
]},
{"width":79.4,"height":1,"data":{"values":[]},"mark":{"type":"point","opacity":0}},
{"width":400.6,"height":354.4,"resolve":{"axis":{"x":"independent","y":"independent"}},"layer":[
{"data":{"name":"bins"},"transform":[{"filter":"isValid(datum.m)"}],"mark":{"type":"rule","color":"black","strokeWidth":2},"encoding":{"x":{"field":"m","type":"quantitative","scale":{"domain":[0.84,1.2],"nice":false,"zero":false},"axis":null},"y":{"field":"a4","type":"quantitative","scale":{"domain":[0,1095],"range":[354.4,0],"nice":false,"zero":false},"axis":null},"y2":{"field":"b4"}}},
{"data":{"name":"bins"},"transform":[{"filter":"isValid(datum.m)"}],"mark":{"type":"circle","size":75,"color":"black","opacity":1},"encoding":{"x":{"field":"m","type":"quantitative","scale":{"domain":[0.84,1.2],"nice":false,"zero":false},"axis":{"orient":"bottom","values":[0.85,0.9,0.95,1,1.05,1.1,1.15,1.2],"format":"~g","ticks":false,"grid":true,"labelPadding":4,"title":"Mass [GeV/c ²]","titleFontSize":14,"titleX":398.6,"titleY":33,"titleAlign":"right","titleBaseline":"middle"}},"y":{"field":"n4","type":"quantitative","scale":{"domain":[0,1095],"range":[354.4,0],"nice":false,"zero":false},"axis":{"orient":"left","values":[0,200,400,600,800,1000],"format":"d","ticks":false,"grid":true,"labelPadding":5,"title":null}}}},
{"data":{"name":"bins"},"mark":{"type":"line","interpolate":"step-after","color":"#ff0000","strokeWidth":2},"encoding":{"x":{"field":"l","type":"quantitative","scale":{"domain":[0.84,1.2],"nice":false,"zero":false},"axis":{"orient":"bottom","values":[0.85,0.9,0.95,1,1.05,1.1,1.15,1.2],"labels":false,"grid":false,"domain":true,"tickSize":-11,"title":null}},"y":{"field":"f4","type":"quantitative","scale":{"domain":[0,1095],"range":[354.4,0],"nice":false,"zero":false},"axis":{"orient":"left","values":[0,200,400,600,800,1000],"labels":false,"grid":false,"domain":true,"tickSize":-11,"title":null}}}},
{"data":{"name":"bg"},"mark":{"type":"line","interpolate":"monotone","color":"#0000ff","strokeWidth":2},"encoding":{"x":{"field":"m","type":"quantitative","scale":{"domain":[0.84,1.2],"nice":false,"zero":false},"axis":{"orient":"bottom","values":[0.85,0.86,0.87,0.88,0.89,0.9,0.91,0.92,0.93,0.94,0.95,0.96,0.97,0.98,0.99,1,1.01,1.02,1.03,1.04,1.05,1.06,1.07,1.08,1.09,1.1,1.11,1.12,1.13,1.14,1.15,1.16,1.17,1.18,1.19,1.2],"labels":false,"grid":false,"tickSize":-6,"title":null}},"y":{"field":"c4","type":"quantitative","scale":{"domain":[0,1095],"range":[354.4,0],"nice":false,"zero":false},"axis":{"orient":"left","values":[0,50,100,150,200,250,300,350,400,450,500,550,600,650,700,750,800,850,900,950,1000,1050],"labels":false,"grid":false,"tickSize":-6,"title":null}}}},
{"data":{"values":[{}]},"mark":{"type":"rect","fill":"white","stroke":"black","strokeWidth":2},"encoding":{"x":{"datum":1.0739,"type":"quantitative","scale":{"domain":[0.84,1.2],"nice":false,"zero":false},"axis":{"orient":"top","values":[0.85,0.9,0.95,1,1.05,1.1,1.15,1.2],"labels":false,"grid":false,"domain":true,"tickSize":-11,"title":null}},"x2":{"datum":1.2357},"y":{"datum":950.7,"type":"quantitative","scale":{"domain":[0,1095],"range":[354.4,0],"nice":false,"zero":false},"axis":{"orient":"right","values":[0,200,400,600,800,1000],"labels":false,"grid":false,"domain":true,"tickSize":-11,"title":null}},"y2":{"datum":1225.7}}},
{"data":{"values":[{}]},"mark":{"type":"text","text":"χ² / ndf","align":"left","baseline":"middle","font":"Liberation Serif","fontSize":21,"color":"black"},"encoding":{"x":{"datum":1.082,"type":"quantitative","scale":{"domain":[0.84,1.2],"nice":false,"zero":false},"axis":{"orient":"top","values":[0.85,0.86,0.87,0.88,0.89,0.9,0.91,0.92,0.93,0.94,0.95,0.96,0.97,0.98,0.99,1,1.01,1.02,1.03,1.04,1.05,1.06,1.07,1.08,1.09,1.1,1.11,1.12,1.13,1.14,1.15,1.16,1.17,1.18,1.19,1.2],"labels":false,"grid":false,"tickSize":-6,"title":null}},"y":{"datum":1160.8,"type":"quantitative","scale":{"domain":[0,1095],"range":[354.4,0],"nice":false,"zero":false},"axis":{"orient":"right","values":[0,50,100,150,200,250,300,350,400,450,500,550,600,650,700,750,800,850,900,950,1000,1050],"labels":false,"grid":false,"tickSize":-6,"title":null}}}},
{"data":{"values":[{}]},"mark":{"type":"text","text":"87.25 / 51","align":"right","baseline":"middle","font":"Liberation Serif","fontSize":21,"color":"black"},"encoding":{"x":{"datum":1.2285,"type":"quantitative","scale":{"domain":[0.84,1.2],"nice":false,"zero":false},"axis":null},"y":{"datum":1160.8,"type":"quantitative","scale":{"domain":[0,1095],"range":[354.4,0],"nice":false,"zero":false},"axis":null}}},
{"data":{"values":[{}]},"mark":{"type":"text","text":"Prob","align":"left","baseline":"middle","font":"Liberation Serif","fontSize":21,"color":"black"},"encoding":{"x":{"datum":1.082,"type":"quantitative","scale":{"domain":[0.84,1.2],"nice":false,"zero":false},"axis":null},"y":{"datum":1018.1,"type":"quantitative","scale":{"domain":[0,1095],"range":[354.4,0],"nice":false,"zero":false},"axis":null}}},
{"data":{"values":[{}]},"mark":{"type":"text","text":"0.001181","align":"right","baseline":"middle","font":"Liberation Serif","fontSize":21,"color":"black"},"encoding":{"x":{"datum":1.2285,"type":"quantitative","scale":{"domain":[0.84,1.2],"nice":false,"zero":false},"axis":null},"y":{"datum":1018.1,"type":"quantitative","scale":{"domain":[0,1095],"range":[354.4,0],"nice":false,"zero":false},"axis":null}}}
]},

{"width":392.4,"height":96.7,"data":{"values":[]},"mark":{"type":"point","opacity":0}},
{"width":64.3,"height":1,"data":{"values":[]},"mark":{"type":"point","opacity":0}},
{"width":391,"height":96.7,"data":{"values":[]},"mark":{"type":"point","opacity":0}},
{"width":94.7,"height":1,"data":{"values":[]},"mark":{"type":"point","opacity":0}},
{"width":392.6,"height":96.7,"data":{"values":[]},"mark":{"type":"point","opacity":0}},
{"width":79.4,"height":1,"data":{"values":[]},"mark":{"type":"point","opacity":0}},
{"width":400.6,"height":96.7,"data":{"values":[]},"mark":{"type":"point","opacity":0}},

{"width":392.4,"height":346.7,"resolve":{"axis":{"x":"independent","y":"independent"}},"layer":[
{"data":{"name":"bins"},"transform":[{"filter":"isValid(datum.m)"}],"mark":{"type":"rule","color":"black","strokeWidth":2},"encoding":{"x":{"field":"m","type":"quantitative","scale":{"domain":[0.84,1.2],"nice":false,"zero":false},"axis":null},"y":{"field":"a1","type":"quantitative","scale":{"domain":[0,161.6],"range":[346.7,0],"nice":false,"zero":false},"axis":null},"y2":{"field":"b1"}}},
{"data":{"name":"bins"},"transform":[{"filter":"isValid(datum.m)"}],"mark":{"type":"circle","size":75,"color":"black","opacity":1},"encoding":{"x":{"field":"m","type":"quantitative","scale":{"domain":[0.84,1.2],"nice":false,"zero":false},"axis":{"orient":"bottom","values":[0.85,0.9,0.95,1,1.05,1.1,1.15,1.2],"format":"~g","ticks":false,"grid":true,"labelPadding":4,"title":"Mass [GeV/c ²]","titleFontSize":14,"titleX":390.4,"titleY":34,"titleAlign":"right","titleBaseline":"middle"}},"y":{"field":"n1","type":"quantitative","scale":{"domain":[0,161.6],"range":[346.7,0],"nice":false,"zero":false},"axis":{"orient":"left","values":[0,20,40,60,80,100,120,140,160],"format":"d","ticks":false,"grid":true,"labelPadding":5,"title":["Fit except for","Excess region"],"titleFont":"Lato","titleFontSize":34,"titleFontWeight":"normal","titleAngle":270,"titleAlign":"left","titleBaseline":"top","titleX":-156.3,"titleY":340,"titleLineHeight":41}}}},
{"data":{"name":"bins"},"mark":{"type":"line","interpolate":"step-after","color":"#ff0000","strokeWidth":2},"encoding":{"x":{"field":"l","type":"quantitative","scale":{"domain":[0.84,1.2],"nice":false,"zero":false},"axis":{"orient":"bottom","values":[0.85,0.9,0.95,1,1.05,1.1,1.15,1.2],"labels":false,"grid":false,"domain":true,"tickSize":-11,"title":null}},"y":{"field":"f5","type":"quantitative","scale":{"domain":[0,161.6],"range":[346.7,0],"nice":false,"zero":false},"axis":{"orient":"left","values":[0,20,40,60,80,100,120,140,160],"labels":false,"grid":false,"domain":true,"tickSize":-11,"title":null}}}},
{"data":{"name":"bg"},"mark":{"type":"line","interpolate":"monotone","color":"#0000ff","strokeWidth":2},"encoding":{"x":{"field":"m","type":"quantitative","scale":{"domain":[0.84,1.2],"nice":false,"zero":false},"axis":{"orient":"bottom","values":[0.85,0.86,0.87,0.88,0.89,0.9,0.91,0.92,0.93,0.94,0.95,0.96,0.97,0.98,0.99,1,1.01,1.02,1.03,1.04,1.05,1.06,1.07,1.08,1.09,1.1,1.11,1.12,1.13,1.14,1.15,1.16,1.17,1.18,1.19,1.2],"labels":false,"grid":false,"tickSize":-6,"title":null}},"y":{"field":"c5","type":"quantitative","scale":{"domain":[0,161.6],"range":[346.7,0],"nice":false,"zero":false},"axis":{"orient":"left","values":[0,5,10,15,20,25,30,35,40,45,50,55,60,65,70,75,80,85,90,95,100,105,110,115,120,125,130,135,140,145,150,155,160],"labels":false,"grid":false,"tickSize":-6,"title":null}}}},
{"data":{"name":"fitr"},"mark":{"type":"rule","color":"#2cb52c","strokeWidth":2},"encoding":{"x":{"field":"g","type":"quantitative","scale":{"domain":[0.84,1.2],"nice":false,"zero":false},"axis":null}}},
{"data":{"values":[{}]},"mark":{"type":"rect","fill":"white"},"encoding":{"x":{"datum":1.0736,"type":"quantitative","scale":{"domain":[0.84,1.2],"nice":false,"zero":false},"axis":{"orient":"top","values":[0.85,0.9,0.95,1,1.05,1.1,1.15,1.2],"labels":false,"grid":false,"domain":true,"tickSize":-11,"title":null}},"x2":{"datum":1.2093},"y":{"datum":140.2,"type":"quantitative","scale":{"domain":[0,161.6],"range":[346.7,0],"nice":false,"zero":false},"axis":{"orient":"right","values":[0,20,40,60,80,100,120,140,160],"labels":false,"grid":false,"domain":true,"tickSize":-11,"title":null}},"y2":{"datum":181.2}}},
{"data":{"values":[{}]},"mark":{"type":"rule","color":"black","strokeWidth":2},"encoding":{"x":{"datum":1.0736,"type":"quantitative","scale":{"domain":[0.84,1.2],"nice":false,"zero":false},"axis":null},"x2":{"datum":1.2093},"y":{"datum":181.2,"type":"quantitative","scale":{"domain":[0,161.6],"range":[346.7,0],"nice":false,"zero":false},"axis":null}}},
{"data":{"values":[{}]},"mark":{"type":"rule","color":"black","strokeWidth":2},"encoding":{"x":{"datum":1.0736,"type":"quantitative","scale":{"domain":[0.84,1.2],"nice":false,"zero":false},"axis":null},"x2":{"datum":1.2093},"y":{"datum":140.2,"type":"quantitative","scale":{"domain":[0,161.6],"range":[346.7,0],"nice":false,"zero":false},"axis":null}}},
{"data":{"values":[{}]},"mark":{"type":"rule","color":"black","strokeWidth":2},"encoding":{"x":{"datum":1.0736,"type":"quantitative","scale":{"domain":[0.84,1.2],"nice":false,"zero":false},"axis":null},"y":{"datum":140.2,"type":"quantitative","scale":{"domain":[0,161.6],"range":[346.7,0],"nice":false,"zero":false},"axis":null},"y2":{"datum":181.2}}},
{"data":{"values":[{}]},"mark":{"type":"text","text":"χ² / ndf","align":"left","baseline":"middle","font":"Liberation Serif","fontSize":21,"color":"black"},"encoding":{"x":{"datum":1.08,"type":"quantitative","scale":{"domain":[0.84,1.2],"nice":false,"zero":false},"axis":{"orient":"top","values":[0.85,0.86,0.87,0.88,0.89,0.9,0.91,0.92,0.93,0.94,0.95,0.96,0.97,0.98,0.99,1,1.01,1.02,1.03,1.04,1.05,1.06,1.07,1.08,1.09,1.1,1.11,1.12,1.13,1.14,1.15,1.16,1.17,1.18,1.19,1.2],"labels":false,"grid":false,"tickSize":-6,"title":null}},"y":{"datum":171.4,"type":"quantitative","scale":{"domain":[0,161.6],"range":[346.7,0],"nice":false,"zero":false},"axis":{"orient":"right","values":[0,5,10,15,20,25,30,35,40,45,50,55,60,65,70,75,80,85,90,95,100,105,110,115,120,125,130,135,140,145,150,155,160],"labels":false,"grid":false,"tickSize":-6,"title":null}}}},
{"data":{"values":[{}]},"mark":{"type":"text","text":"39.18 /","align":"right","baseline":"middle","font":"Liberation Serif","fontSize":21,"color":"black"},"encoding":{"x":{"datum":1.2038,"type":"quantitative","scale":{"domain":[0.84,1.2],"nice":false,"zero":false},"axis":null},"y":{"datum":171.4,"type":"quantitative","scale":{"domain":[0,161.6],"range":[346.7,0],"nice":false,"zero":false},"axis":null}}},
{"data":{"values":[{}]},"mark":{"type":"text","text":"Prob","align":"left","baseline":"middle","font":"Liberation Serif","fontSize":21,"color":"black"},"encoding":{"x":{"datum":1.08,"type":"quantitative","scale":{"domain":[0.84,1.2],"nice":false,"zero":false},"axis":null},"y":{"datum":150.4,"type":"quantitative","scale":{"domain":[0,161.6],"range":[346.7,0],"nice":false,"zero":false},"axis":null}}},
{"data":{"values":[{}]},"mark":{"type":"text","text":"0.41","align":"right","baseline":"middle","font":"Liberation Serif","fontSize":21,"color":"black"},"encoding":{"x":{"datum":1.2084,"type":"quantitative","scale":{"domain":[0.84,1.2],"nice":false,"zero":false},"axis":null},"y":{"datum":150.4,"type":"quantitative","scale":{"domain":[0,161.6],"range":[346.7,0],"nice":false,"zero":false},"axis":null}}}
]},
{"width":64.3,"height":1,"data":{"values":[]},"mark":{"type":"point","opacity":0}},
{"width":391,"height":354.7,"resolve":{"axis":{"x":"independent","y":"independent"}},"layer":[
{"data":{"name":"bins"},"transform":[{"filter":"isValid(datum.m)"}],"mark":{"type":"rule","color":"black","strokeWidth":2},"encoding":{"x":{"field":"m","type":"quantitative","scale":{"domain":[0.84,1.2],"nice":false,"zero":false},"axis":null},"y":{"field":"a2","type":"quantitative","scale":{"domain":[0,588],"range":[354.7,8],"nice":false,"zero":false},"axis":null},"y2":{"field":"b2"}}},
{"data":{"name":"bins"},"transform":[{"filter":"isValid(datum.m)"}],"mark":{"type":"circle","size":75,"color":"black","opacity":1},"encoding":{"x":{"field":"m","type":"quantitative","scale":{"domain":[0.84,1.2],"nice":false,"zero":false},"axis":{"orient":"bottom","values":[0.85,0.9,0.95,1,1.05,1.1,1.15,1.2],"format":"~g","ticks":false,"grid":true,"labelPadding":4,"title":"Mass [GeV/c ²]","titleFontSize":14,"titleX":389,"titleY":34,"titleAlign":"right","titleBaseline":"middle"}},"y":{"field":"n2","type":"quantitative","scale":{"domain":[0,588],"range":[354.7,8],"nice":false,"zero":false},"axis":{"orient":"left","values":[0,100,200,300,400,500],"format":"d","ticks":false,"grid":true,"labelPadding":5,"title":null}}}},
{"data":{"name":"bins"},"mark":{"type":"line","interpolate":"step-after","color":"#ff0000","strokeWidth":2},"encoding":{"x":{"field":"l","type":"quantitative","scale":{"domain":[0.84,1.2],"nice":false,"zero":false},"axis":{"orient":"bottom","values":[0.85,0.9,0.95,1,1.05,1.1,1.15,1.2],"labels":false,"grid":false,"domain":true,"tickSize":-11,"title":null}},"y":{"field":"f6","type":"quantitative","scale":{"domain":[0,588],"range":[354.7,8],"nice":false,"zero":false},"axis":{"orient":"left","values":[0,100,200,300,400,500],"labels":false,"grid":false,"domain":true,"tickSize":-11,"title":null}}}},
{"data":{"name":"bg"},"mark":{"type":"line","interpolate":"monotone","color":"#0000ff","strokeWidth":2},"encoding":{"x":{"field":"m","type":"quantitative","scale":{"domain":[0.84,1.2],"nice":false,"zero":false},"axis":{"orient":"bottom","values":[0.85,0.86,0.87,0.88,0.89,0.9,0.91,0.92,0.93,0.94,0.95,0.96,0.97,0.98,0.99,1,1.01,1.02,1.03,1.04,1.05,1.06,1.07,1.08,1.09,1.1,1.11,1.12,1.13,1.14,1.15,1.16,1.17,1.18,1.19,1.2],"labels":false,"grid":false,"tickSize":-6,"title":null}},"y":{"field":"c6","type":"quantitative","scale":{"domain":[0,588],"range":[354.7,8],"nice":false,"zero":false},"axis":{"orient":"left","values":[0,20,40,60,80,100,120,140,160,180,200,220,240,260,280,300,320,340,360,380,400,420,440,460,480,500,520,540,560,580],"labels":false,"grid":false,"tickSize":-6,"title":null}}}},
{"data":{"name":"fitr"},"mark":{"type":"rule","color":"#2cb52c","strokeWidth":2},"encoding":{"x":{"field":"g","type":"quantitative","scale":{"domain":[0.84,1.2],"nice":false,"zero":false},"axis":null},"y":{"datum":0,"type":"quantitative","scale":{"domain":[0,588],"range":[354.7,8],"nice":false,"zero":false},"axis":null},"y2":{"datum":588}}},
{"data":{"values":[{}]},"mark":{"type":"rect","fill":"white","stroke":"black","strokeWidth":2},"encoding":{"x":{"datum":1.0748,"type":"quantitative","scale":{"domain":[0.84,1.2],"nice":false,"zero":false},"axis":{"orient":"top","offset":-8,"values":[0.85,0.9,0.95,1,1.05,1.1,1.15,1.2],"labels":false,"grid":false,"domain":true,"tickSize":-11,"title":null}},"x2":{"datum":1.2405},"y":{"datum":511.7,"type":"quantitative","scale":{"domain":[0,588],"range":[354.7,8],"nice":false,"zero":false},"axis":{"orient":"right","values":[0,100,200,300,400,500],"labels":false,"grid":false,"domain":true,"tickSize":-11,"title":null}},"y2":{"datum":657.5}}},
{"data":{"values":[{}]},"mark":{"type":"text","text":"χ² / ndf","align":"left","baseline":"middle","font":"Liberation Serif","fontSize":21,"color":"black"},"encoding":{"x":{"datum":1.0821,"type":"quantitative","scale":{"domain":[0.84,1.2],"nice":false,"zero":false},"axis":{"orient":"top","offset":-8,"values":[0.85,0.86,0.87,0.88,0.89,0.9,0.91,0.92,0.93,0.94,0.95,0.96,0.97,0.98,0.99,1,1.01,1.02,1.03,1.04,1.05,1.06,1.07,1.08,1.09,1.1,1.11,1.12,1.13,1.14,1.15,1.16,1.17,1.18,1.19,1.2],"labels":false,"grid":false,"tickSize":-6,"title":null}},"y":{"datum":621.9,"type":"quantitative","scale":{"domain":[0,588],"range":[354.7,8],"nice":false,"zero":false},"axis":{"orient":"right","values":[0,20,40,60,80,100,120,140,160,180,200,220,240,260,280,300,320,340,360,380,400,420,440,460,480,500,520,540,560,580],"labels":false,"grid":false,"tickSize":-6,"title":null}}}},
{"data":{"values":[{}]},"mark":{"type":"text","text":"30.55 / 38","align":"right","baseline":"middle","font":"Liberation Serif","fontSize":21,"color":"black"},"encoding":{"x":{"datum":1.2331,"type":"quantitative","scale":{"domain":[0.84,1.2],"nice":false,"zero":false},"axis":null},"y":{"datum":621.9,"type":"quantitative","scale":{"domain":[0,588],"range":[354.7,8],"nice":false,"zero":false},"axis":null}}},
{"data":{"values":[{}]},"mark":{"type":"text","text":"Prob","align":"left","baseline":"middle","font":"Liberation Serif","fontSize":21,"color":"black"},"encoding":{"x":{"datum":1.0821,"type":"quantitative","scale":{"domain":[0.84,1.2],"nice":false,"zero":false},"axis":null},"y":{"datum":545.6,"type":"quantitative","scale":{"domain":[0,588],"range":[354.7,8],"nice":false,"zero":false},"axis":null}}},
{"data":{"values":[{}]},"mark":{"type":"text","text":"0.7997","align":"right","baseline":"middle","font":"Liberation Serif","fontSize":21,"color":"black"},"encoding":{"x":{"datum":1.2331,"type":"quantitative","scale":{"domain":[0.84,1.2],"nice":false,"zero":false},"axis":null},"y":{"datum":545.6,"type":"quantitative","scale":{"domain":[0,588],"range":[354.7,8],"nice":false,"zero":false},"axis":null}}}
]},
{"width":94.7,"height":1,"data":{"values":[]},"mark":{"type":"point","opacity":0}},
{"width":392.6,"height":358,"resolve":{"axis":{"x":"independent","y":"independent"}},"layer":[
{"data":{"name":"bins"},"transform":[{"filter":"isValid(datum.m)"}],"mark":{"type":"rule","color":"black","strokeWidth":2},"encoding":{"x":{"field":"m","type":"quantitative","scale":{"domain":[0.84,1.2],"nice":false,"zero":false},"axis":null},"y":{"field":"a3","type":"quantitative","scale":{"domain":[0,910],"range":[358,10],"nice":false,"zero":false},"axis":null},"y2":{"field":"b3"}}},
{"data":{"name":"bins"},"transform":[{"filter":"isValid(datum.m)"}],"mark":{"type":"circle","size":75,"color":"black","opacity":1},"encoding":{"x":{"field":"m","type":"quantitative","scale":{"domain":[0.84,1.2],"nice":false,"zero":false},"axis":{"orient":"bottom","values":[0.85,0.9,0.95,1,1.05,1.1,1.15,1.2],"format":"~g","ticks":false,"grid":true,"labelPadding":4,"title":"Mass [GeV/c ²]","titleFontSize":14,"titleX":390.6,"titleY":34,"titleAlign":"right","titleBaseline":"middle"}},"y":{"field":"n3","type":"quantitative","scale":{"domain":[0,910],"range":[358,10],"nice":false,"zero":false},"axis":{"orient":"left","values":[0,100,200,300,400,500,600,700,800,900],"format":"d","ticks":false,"grid":true,"labelPadding":5,"title":null}}}},
{"data":{"name":"bins"},"mark":{"type":"line","interpolate":"step-after","color":"#ff0000","strokeWidth":2},"encoding":{"x":{"field":"l","type":"quantitative","scale":{"domain":[0.84,1.2],"nice":false,"zero":false},"axis":{"orient":"bottom","values":[0.85,0.9,0.95,1,1.05,1.1,1.15,1.2],"labels":false,"grid":false,"domain":true,"tickSize":-11,"title":null}},"y":{"field":"f7","type":"quantitative","scale":{"domain":[0,910],"range":[358,10],"nice":false,"zero":false},"axis":{"orient":"left","values":[0,100,200,300,400,500,600,700,800,900],"labels":false,"grid":false,"domain":true,"tickSize":-11,"title":null}}}},
{"data":{"name":"bg"},"mark":{"type":"line","interpolate":"monotone","color":"#0000ff","strokeWidth":2},"encoding":{"x":{"field":"m","type":"quantitative","scale":{"domain":[0.84,1.2],"nice":false,"zero":false},"axis":{"orient":"bottom","values":[0.85,0.86,0.87,0.88,0.89,0.9,0.91,0.92,0.93,0.94,0.95,0.96,0.97,0.98,0.99,1,1.01,1.02,1.03,1.04,1.05,1.06,1.07,1.08,1.09,1.1,1.11,1.12,1.13,1.14,1.15,1.16,1.17,1.18,1.19,1.2],"labels":false,"grid":false,"tickSize":-6,"title":null}},"y":{"field":"c7","type":"quantitative","scale":{"domain":[0,910],"range":[358,10],"nice":false,"zero":false},"axis":{"orient":"left","values":[0,20,40,60,80,100,120,140,160,180,200,220,240,260,280,300,320,340,360,380,400,420,440,460,480,500,520,540,560,580,600,620,640,660,680,700,720,740,760,780,800,820,840,860,880,900],"labels":false,"grid":false,"tickSize":-6,"title":null}}}},
{"data":{"name":"fitr"},"mark":{"type":"rule","color":"#2cb52c","strokeWidth":2},"encoding":{"x":{"field":"g","type":"quantitative","scale":{"domain":[0.84,1.2],"nice":false,"zero":false},"axis":null},"y":{"datum":0,"type":"quantitative","scale":{"domain":[0,910],"range":[358,10],"nice":false,"zero":false},"axis":null},"y2":{"datum":910}}},
{"data":{"values":[{}]},"mark":{"type":"rect","fill":"white"},"encoding":{"x":{"datum":1.075,"type":"quantitative","scale":{"domain":[0.84,1.2],"nice":false,"zero":false},"axis":{"orient":"top","offset":-10,"values":[0.85,0.9,0.95,1,1.05,1.1,1.15,1.2],"labels":false,"grid":false,"domain":true,"tickSize":-11,"title":null}},"x2":{"datum":1.2217},"y":{"datum":789.7,"type":"quantitative","scale":{"domain":[0,910],"range":[358,10],"nice":false,"zero":false},"axis":{"orient":"right","values":[0,100,200,300,400,500,600,700,800,900],"labels":false,"grid":false,"domain":true,"tickSize":-11,"title":null}},"y2":{"datum":1019.8}}},
{"data":{"values":[{}]},"mark":{"type":"rule","color":"black","strokeWidth":2},"encoding":{"x":{"datum":1.075,"type":"quantitative","scale":{"domain":[0.84,1.2],"nice":false,"zero":false},"axis":null},"x2":{"datum":1.2217},"y":{"datum":1019.8,"type":"quantitative","scale":{"domain":[0,910],"range":[358,10],"nice":false,"zero":false},"axis":null}}},
{"data":{"values":[{}]},"mark":{"type":"rule","color":"black","strokeWidth":2},"encoding":{"x":{"datum":1.075,"type":"quantitative","scale":{"domain":[0.84,1.2],"nice":false,"zero":false},"axis":null},"x2":{"datum":1.2217},"y":{"datum":789.7,"type":"quantitative","scale":{"domain":[0,910],"range":[358,10],"nice":false,"zero":false},"axis":null}}},
{"data":{"values":[{}]},"mark":{"type":"rule","color":"black","strokeWidth":2},"encoding":{"x":{"datum":1.075,"type":"quantitative","scale":{"domain":[0.84,1.2],"nice":false,"zero":false},"axis":null},"y":{"datum":789.7,"type":"quantitative","scale":{"domain":[0,910],"range":[358,10],"nice":false,"zero":false},"axis":null},"y2":{"datum":1019.8}}},
{"data":{"values":[{}]},"mark":{"type":"text","text":"χ² / ndf","align":"left","baseline":"middle","font":"Liberation Serif","fontSize":21,"color":"black"},"encoding":{"x":{"datum":1.0824,"type":"quantitative","scale":{"domain":[0.84,1.2],"nice":false,"zero":false},"axis":{"orient":"top","offset":-10,"values":[0.85,0.86,0.87,0.88,0.89,0.9,0.91,0.92,0.93,0.94,0.95,0.96,0.97,0.98,0.99,1,1.01,1.02,1.03,1.04,1.05,1.06,1.07,1.08,1.09,1.1,1.11,1.12,1.13,1.14,1.15,1.16,1.17,1.18,1.19,1.2],"labels":false,"grid":false,"tickSize":-6,"title":null}},"y":{"datum":964.9,"type":"quantitative","scale":{"domain":[0,910],"range":[358,10],"nice":false,"zero":false},"axis":{"orient":"right","values":[0,20,40,60,80,100,120,140,160,180,200,220,240,260,280,300,320,340,360,380,400,420,440,460,480,500,520,540,560,580,600,620,640,660,680,700,720,740,760,780,800,820,840,860,880,900],"labels":false,"grid":false,"tickSize":-6,"title":null}}}},
{"data":{"values":[{}]},"mark":{"type":"text","text":"37.83 / 3","align":"right","baseline":"middle","font":"Liberation Serif","fontSize":21,"color":"black"},"encoding":{"x":{"datum":1.2208,"type":"quantitative","scale":{"domain":[0.84,1.2],"nice":false,"zero":false},"axis":null},"y":{"datum":964.9,"type":"quantitative","scale":{"domain":[0,910],"range":[358,10],"nice":false,"zero":false},"axis":null}}},
{"data":{"values":[{}]},"mark":{"type":"text","text":"Prob","align":"left","baseline":"middle","font":"Liberation Serif","fontSize":21,"color":"black"},"encoding":{"x":{"datum":1.0824,"type":"quantitative","scale":{"domain":[0.84,1.2],"nice":false,"zero":false},"axis":null},"y":{"datum":844.6,"type":"quantitative","scale":{"domain":[0,910],"range":[358,10],"nice":false,"zero":false},"axis":null}}},
{"data":{"values":[{}]},"mark":{"type":"text","text":"0.477","align":"right","baseline":"middle","font":"Liberation Serif","fontSize":21,"color":"black"},"encoding":{"x":{"datum":1.2208,"type":"quantitative","scale":{"domain":[0.84,1.2],"nice":false,"zero":false},"axis":null},"y":{"datum":844.6,"type":"quantitative","scale":{"domain":[0,910],"range":[358,10],"nice":false,"zero":false},"axis":null}}}
]},
{"width":79.4,"height":1,"data":{"values":[]},"mark":{"type":"point","opacity":0}},
{"width":400.6,"height":360,"resolve":{"axis":{"x":"independent","y":"independent"}},"layer":[
{"data":{"name":"bins"},"transform":[{"filter":"isValid(datum.m)"}],"mark":{"type":"rule","color":"black","strokeWidth":2},"encoding":{"x":{"field":"m","type":"quantitative","scale":{"domain":[0.84,1.2],"nice":false,"zero":false},"axis":null},"y":{"field":"a4","type":"quantitative","scale":{"domain":[0,1064],"range":[360,5],"nice":false,"zero":false},"axis":null},"y2":{"field":"b4"}}},
{"data":{"name":"bins"},"transform":[{"filter":"isValid(datum.m)"}],"mark":{"type":"circle","size":75,"color":"black","opacity":1},"encoding":{"x":{"field":"m","type":"quantitative","scale":{"domain":[0.84,1.2],"nice":false,"zero":false},"axis":{"orient":"bottom","values":[0.85,0.9,0.95,1,1.05,1.1,1.15,1.2],"format":"~g","ticks":false,"grid":true,"labelPadding":4,"title":"Mass [GeV/c ²]","titleFontSize":14,"titleX":398.6,"titleY":34,"titleAlign":"right","titleBaseline":"middle"}},"y":{"field":"n4","type":"quantitative","scale":{"domain":[0,1064],"range":[360,5],"nice":false,"zero":false},"axis":{"orient":"left","values":[0,200,400,600,800,1000],"format":"d","ticks":false,"grid":true,"labelPadding":5,"title":null}}}},
{"data":{"name":"bins"},"mark":{"type":"line","interpolate":"step-after","color":"#ff0000","strokeWidth":2},"encoding":{"x":{"field":"l","type":"quantitative","scale":{"domain":[0.84,1.2],"nice":false,"zero":false},"axis":{"orient":"bottom","values":[0.85,0.9,0.95,1,1.05,1.1,1.15,1.2],"labels":false,"grid":false,"domain":true,"tickSize":-11,"title":null}},"y":{"field":"f8","type":"quantitative","scale":{"domain":[0,1064],"range":[360,5],"nice":false,"zero":false},"axis":{"orient":"left","values":[0,200,400,600,800,1000],"labels":false,"grid":false,"domain":true,"tickSize":-11,"title":null}}}},
{"data":{"name":"bg"},"mark":{"type":"line","interpolate":"monotone","color":"#0000ff","strokeWidth":2},"encoding":{"x":{"field":"m","type":"quantitative","scale":{"domain":[0.84,1.2],"nice":false,"zero":false},"axis":{"orient":"bottom","values":[0.85,0.86,0.87,0.88,0.89,0.9,0.91,0.92,0.93,0.94,0.95,0.96,0.97,0.98,0.99,1,1.01,1.02,1.03,1.04,1.05,1.06,1.07,1.08,1.09,1.1,1.11,1.12,1.13,1.14,1.15,1.16,1.17,1.18,1.19,1.2],"labels":false,"grid":false,"tickSize":-6,"title":null}},"y":{"field":"c8","type":"quantitative","scale":{"domain":[0,1064],"range":[360,5],"nice":false,"zero":false},"axis":{"orient":"left","values":[0,50,100,150,200,250,300,350,400,450,500,550,600,650,700,750,800,850,900,950,1000,1050],"labels":false,"grid":false,"tickSize":-6,"title":null}}}},
{"data":{"name":"fitr"},"mark":{"type":"rule","color":"#2cb52c","strokeWidth":2},"encoding":{"x":{"field":"g","type":"quantitative","scale":{"domain":[0.84,1.2],"nice":false,"zero":false},"axis":null},"y":{"datum":0,"type":"quantitative","scale":{"domain":[0,1064],"range":[360,5],"nice":false,"zero":false},"axis":null},"y2":{"datum":1064}}},
{"data":{"values":[{}]},"mark":{"type":"rect","fill":"white","stroke":"black","strokeWidth":2},"encoding":{"x":{"datum":1.0739,"type":"quantitative","scale":{"domain":[0.84,1.2],"nice":false,"zero":false},"axis":{"orient":"top","offset":-5,"values":[0.85,0.9,0.95,1,1.05,1.1,1.15,1.2],"labels":false,"grid":false,"domain":true,"tickSize":-11,"title":null}},"x2":{"datum":1.2357},"y":{"datum":923.1,"type":"quantitative","scale":{"domain":[0,1064],"range":[360,5],"nice":false,"zero":false},"axis":{"orient":"right","values":[0,200,400,600,800,1000],"labels":false,"grid":false,"domain":true,"tickSize":-11,"title":null}},"y2":{"datum":1189.9}}},
{"data":{"values":[{}]},"mark":{"type":"text","text":"χ² / ndf","align":"left","baseline":"middle","font":"Liberation Serif","fontSize":21,"color":"black"},"encoding":{"x":{"datum":1.082,"type":"quantitative","scale":{"domain":[0.84,1.2],"nice":false,"zero":false},"axis":{"orient":"top","offset":-5,"values":[0.85,0.86,0.87,0.88,0.89,0.9,0.91,0.92,0.93,0.94,0.95,0.96,0.97,0.98,0.99,1,1.01,1.02,1.03,1.04,1.05,1.06,1.07,1.08,1.09,1.1,1.11,1.12,1.13,1.14,1.15,1.16,1.17,1.18,1.19,1.2],"labels":false,"grid":false,"tickSize":-6,"title":null}},"y":{"datum":1127,"type":"quantitative","scale":{"domain":[0,1064],"range":[360,5],"nice":false,"zero":false},"axis":{"orient":"right","values":[0,50,100,150,200,250,300,350,400,450,500,550,600,650,700,750,800,850,900,950,1000,1050],"labels":false,"grid":false,"tickSize":-6,"title":null}}}},
{"data":{"values":[{}]},"mark":{"type":"text","text":"37.12 / 38","align":"right","baseline":"middle","font":"Liberation Serif","fontSize":21,"color":"black"},"encoding":{"x":{"datum":1.2285,"type":"quantitative","scale":{"domain":[0.84,1.2],"nice":false,"zero":false},"axis":null},"y":{"datum":1127,"type":"quantitative","scale":{"domain":[0,1064],"range":[360,5],"nice":false,"zero":false},"axis":null}}},
{"data":{"values":[{}]},"mark":{"type":"text","text":"Prob","align":"left","baseline":"middle","font":"Liberation Serif","fontSize":21,"color":"black"},"encoding":{"x":{"datum":1.082,"type":"quantitative","scale":{"domain":[0.84,1.2],"nice":false,"zero":false},"axis":null},"y":{"datum":989.1,"type":"quantitative","scale":{"domain":[0,1064],"range":[360,5],"nice":false,"zero":false},"axis":null}}},
{"data":{"values":[{}]},"mark":{"type":"text","text":"0.51","align":"right","baseline":"middle","font":"Liberation Serif","fontSize":21,"color":"black"},"encoding":{"x":{"datum":1.2285,"type":"quantitative","scale":{"domain":[0.84,1.2],"nice":false,"zero":false},"axis":null},"y":{"datum":989.1,"type":"quantitative","scale":{"domain":[0,1064],"range":[360,5],"nice":false,"zero":false},"axis":null}}}
]}
]
}
